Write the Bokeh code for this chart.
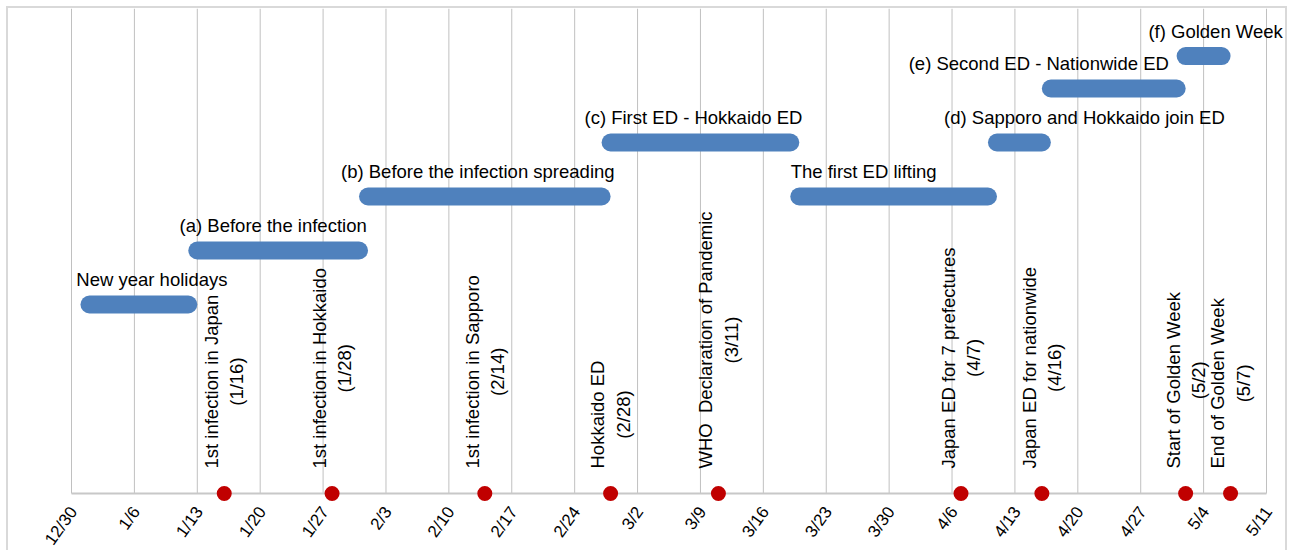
import math
from datetime import date

from bokeh.plotting import figure
from bokeh.models import Range1d
from bokeh.core.properties import value
from bokeh.embed import file_html
from bokeh.resources import INLINE

# ---------------- data ----------------
origin = date(2019, 12, 30)

tick_labels = ["12/30", "1/6", "1/13", "1/20", "1/27", "2/3", "2/10", "2/17",
               "2/24", "3/2", "3/9", "3/16", "3/23", "3/30", "4/6", "4/13",
               "4/20", "4/27", "5/4", "5/11"]

period_names = ["New year holidays",
                "(a) Before the infection",
                "(b) Before the infection spreading",
                "The first ED lifting",
                "(c) First ED - Hokkaido ED",
                "(d) Sapporo and Hokkaido join ED",
                "(e) Second ED - Nationwide ED",
                "(f) Golden Week"]
period_start = ["2020-01-01", "2020-01-13", "2020-02-01", "2020-03-20",
                "2020-02-28", "2020-04-11", "2020-04-17", "2020-05-02"]
period_end = ["2020-01-12", "2020-01-31", "2020-02-27", "2020-04-10",
              "2020-03-19", "2020-04-16", "2020-05-01", "2020-05-06"]
period_row = [7, 9, 11, 11, 13, 13, 15, 16.2]

event_names = ["1st infection in Japan",
               "1st infection in Hokkaido",
               "1st infection in Sapporo",
               "Hokkaido ED",
               "WHO \u00a0Declaration of Pandemic",
               "Japan ED for 7 prefectures",
               "Japan ED for nationwide",
               "Start of Golden Week",
               "End of Golden Week"]
event_dates = ["2020-01-16", "2020-01-28", "2020-02-14", "2020-02-28",
               "2020-03-11", "2020-04-07", "2020-04-16", "2020-05-02",
               "2020-05-07"]

# label placement (pixels, relative to bar centre)
label_dx = [13, -5, -7, -30, -7, 65, -75, 12]

# ---------------- helpers ----------------
def day(s):
    return (date.fromisoformat(s) - origin).days

tick_days = []
for lab in tick_labels:
    m, d = map(int, lab.split("/"))
    yr = 2019 if m == 12 else 2020
    tick_days.append((date(yr, m, d) - origin).days)

x0 = [day(s) for s in period_start]
x1 = [day(s) for s in period_end]
xmid = [(a + b) / 2 for a, b in zip(x0, x1)]
ev_x = [day(s) for s in event_dates]
ev_text = []
for n, s in zip(event_names, event_dates):
    dd = date.fromisoformat(s)
    ev_text.append(f"{n}\n({dd.month}/{dd.day})")

# ---------------- layout (pixel targets -> ranges) ----------------
W, H = 1281, 544            # canvas size; canvas starts at page (8, 8)
CX, CY = 8, 8
X0_PX, X1_PX = 71, 1266     # screen x of first / last tick
Y0_PX, PX_PER_ROW = 493, 27  # screen y of the baseline, px per y unit
ppd = (X1_PX - X0_PX) / (tick_days[-1] - tick_days[0])
x_start = tick_days[0] - (X0_PX - CX) / ppd
x_end = tick_days[-1] + (CX + W - X1_PX) / ppd
y_end = (Y0_PX - CY) / PX_PER_ROW
y_start = -(CY + H - Y0_PX) / PX_PER_ROW

FONT = value("Liberation Sans")

p = figure(width=W, height=H, output_backend="svg", toolbar_location=None,
           x_range=Range1d(x_start, x_end), y_range=Range1d(y_start, y_end),
           x_axis_location=None, y_axis_location=None,
           min_border=0, min_border_left=0, min_border_right=0,
           min_border_top=0, min_border_bottom=0)
p.styles = {"margin-left": "6px", "margin-top": "6px",
            "border-left": "2px solid #D9D9D9",
            "border-top": "2px solid #D9D9D9",
            "border-right": "2px solid #D9D9D9"}
p.outline_line_color = None
p.background_fill_color = "white"
p.border_fill_color = "white"
p.xgrid.visible = False
p.ygrid.visible = False

# vertical gridlines
p.segment(x0=tick_days, y0=[0] * len(tick_days), x1=tick_days,
          y1=[y_end] * len(tick_days), line_color="#C0C0C0", line_width=1)
# baseline axis
p.segment(x0=[tick_days[0]], y0=[0], x1=[tick_days[-1]], y1=[0],
          line_color="#C8C8C8", line_width=2)

# tick labels
p.text(x=tick_days, y=[0] * len(tick_days), text=tick_labels, angle=0.95,
       x_offset=2, y_offset=15, text_align="right", text_baseline="middle",
       text_font=FONT, text_font_size="17px", text_color="black")

# period bars
p.segment(x0=x0, y0=period_row, x1=x1, y1=period_row,
          line_color="#4F81BD", line_width=18, line_cap="round")

p.text(x=xmid, y=period_row, text=period_names, x_offset=label_dx,
       y_offset=-25, text_font=FONT, text_font_size="18.5px",
       text_align="center", text_baseline="alphabetic", text_color="black")

# event labels
p.text(x=ev_x, y=[0] * len(ev_x), text=ev_text, angle=math.pi / 2,
       y_offset=-25, anchor="center_left", text_align="center",
       text_baseline="middle", text_font=FONT, text_font_size="18.5px",
       text_color="black", text_line_height=1.2)

# event dots
p.scatter(x=ev_x, y=[0] * len(ev_x), size=15, fill_color="#C00000",
          line_color=None)

open("out.html", "w").write(file_html(p, INLINE))
